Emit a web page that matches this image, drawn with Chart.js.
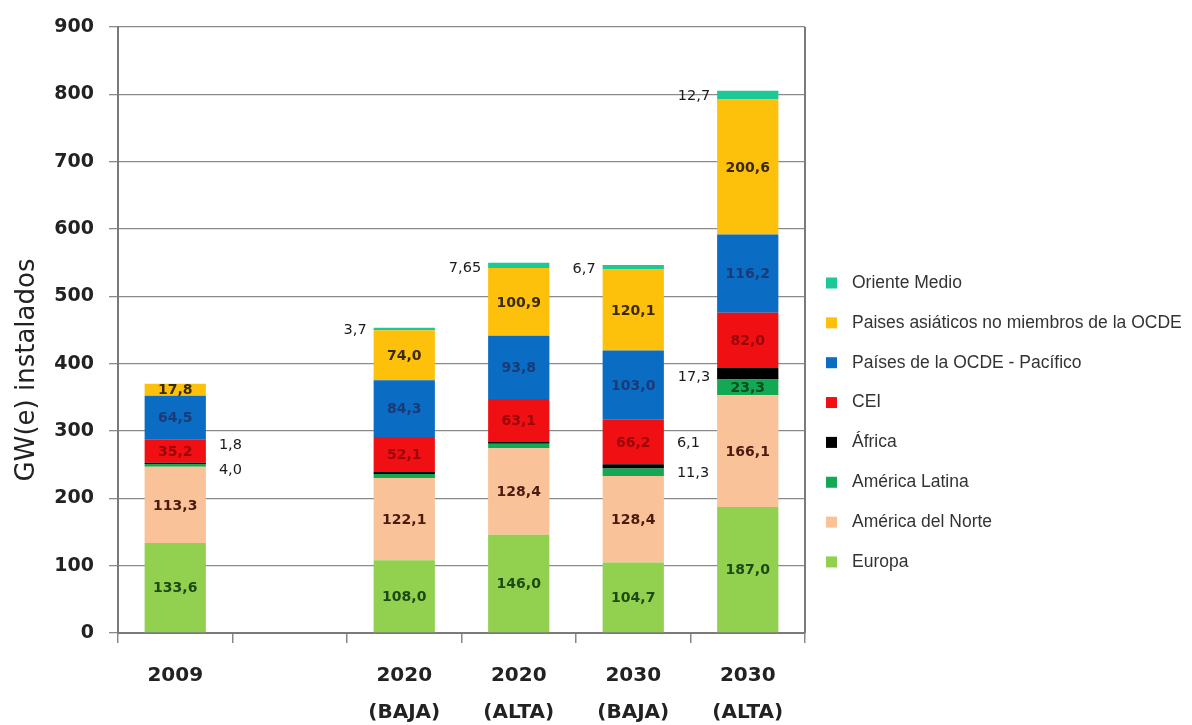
<!DOCTYPE html>
<html>
<head>
<meta charset="utf-8">
<title>GW(e) instalados por región</title>
<style>
  body { margin: 0; background: #fff; }
  #chart-container { width: 1192px; height: 725px; }
</style>
</head>
<body>
<div id="chart-container">
  <canvas id="mycanvas" width="1192" height="725"></canvas>
</div>

<script src="https://cdn.jsdelivr.net/npm/chart.js@4.4.1/dist/chart.umd.min.js"></script>
<script>
// categorías (la segunda queda vacía como separador)
var categorias = ['2009', '', ['2020', '(BAJA)'], ['2020', '(ALTA)'], ['2030', '(BAJA)'], ['2030', '(ALTA)']];

// GW(e) instalados por región, de abajo arriba en la pila
var europa        = [133.6, null, 108.0, 146.0, 104.7, 187.0];
var americaNorte  = [113.3, null, 122.1, 128.4, 128.4, 166.1];
var americaLatina = [4.0,   null, 6.0,   6.5,   11.3,  23.3];
var africa        = [1.8,   null, 3.0,   3.5,   6.1,   17.3];
var cei           = [35.2,  null, 52.1,  63.1,  66.2,  82.0];
var ocdePacifico  = [64.5,  null, 84.3,  93.8,  103.0, 116.2];
var asiaNoOcde    = [17.8,  null, 74.0,  100.9, 120.1, 200.6];
var orienteMedio  = [null,  null, 3.7,   7.65,  6.7,   12.7];

var ticksY = [0, 100, 200, 300, 400, 500, 600, 700, 800, 900];

function fmt(v) {
    var d = Math.abs(v * 10 - Math.round(v * 10)) < 1e-6 ? 1 : 2;
    return v.toFixed(d).replace('.', ',');
}

// etiquetas fuera de la barra: serie, categoría, lado y desplazamiento
var etiquetasFuera = [
    { serie: 'África', cat: 0, lado: 'der', dy: -18 },
    { serie: 'América Latina', cat: 0, lado: 'der', dy: 5 },
    { serie: 'África', cat: 4, lado: 'der', dy: -23 },
    { serie: 'América Latina', cat: 4, lado: 'der', dy: 1 },
    { serie: 'África', cat: 5, lado: 'izq', dy: 4 },
    { serie: 'Oriente Medio', cat: 2, lado: 'izq', dy: 1 },
    { serie: 'Oriente Medio', cat: 3, lado: 'izq', dy: 3 },
    { serie: 'Oriente Medio', cat: 4, lado: 'izq', dy: 2 },
    { serie: 'Oriente Medio', cat: 5, lado: 'izq', dy: 1 }
];

var etiquetasPlugin = {
    id: 'etiquetas',
    afterDatasetsDraw: function(chart) {
        var ctx = chart.ctx;
        ctx.save();
        ctx.textBaseline = 'middle';
        chart.data.datasets.forEach(function(ds, di) {
            var meta = chart.getDatasetMeta(di);
            meta.data.forEach(function(bar, ci) {
                var v = ds.data[ci];
                if (v == null) return;
                var p = bar.getProps(['x', 'y', 'base', 'width'], true);
                var yc = (p.y + p.base) / 2;
                var dentro = ds.dentro === true || (Array.isArray(ds.dentro) && ds.dentro.indexOf(ci) >= 0);
                if (dentro) {
                    ctx.font = 'bold 14px "DejaVu Sans"';
                    ctx.fillStyle = ds.colorTexto;
                    ctx.textAlign = 'center';
                    ctx.fillText(fmt(v), p.x, yc + 1);
                }
                etiquetasFuera.forEach(function(e) {
                    if (e.serie !== ds.label || e.cat !== ci) return;
                    ctx.font = '14.5px "DejaVu Sans"';
                    ctx.fillStyle = '#1a1a1a';
                    if (e.lado === 'der') {
                        ctx.textAlign = 'left';
                        ctx.fillText(fmt(v), p.x + p.width / 2 + 13, yc + e.dy);
                    } else {
                        ctx.textAlign = 'right';
                        ctx.fillText(fmt(v), p.x - p.width / 2 - 7, yc + e.dy);
                    }
                });
            });
        });
        ctx.restore();
    },
    afterDraw: function(chart) {
        var ctx = chart.ctx;
        var area = chart.chartArea;
        ctx.save();
        // borde derecho del área
        ctx.strokeStyle = '#7a7a7a';
        ctx.lineWidth = 2;
        ctx.beginPath();
        ctx.moveTo(area.right, area.top);
        ctx.lineTo(area.right, area.bottom);
        ctx.stroke();

        // título del eje Y
        ctx.translate(27, 370);
        ctx.rotate(-Math.PI / 2);
        ctx.font = '26px "DejaVu Sans"';
        ctx.fillStyle = '#222';
        ctx.textAlign = 'center';
        ctx.textBaseline = 'middle';
        ctx.fillText('GW(e) instalados', 0, 0);
        ctx.restore();

        // leyenda, de arriba (última serie) a abajo
        ctx.save();
        var ds = chart.data.datasets.slice().reverse();
        ctx.font = '17.5px "Liberation Sans"';
        ctx.textBaseline = 'middle';
        ctx.textAlign = 'left';
        ds.forEach(function(d, i) {
            var y = 283 + i * 39.85;
            ctx.fillStyle = d.backgroundColor;
            ctx.fillRect(826, y - 5.5, 11, 11);
            ctx.fillStyle = '#333';
            ctx.fillText(d.label, 852, y);
        });
        ctx.restore();
    }
};

var chartdata = {
    labels: categorias,
    datasets: [
        { label: 'Europa', data: europa, backgroundColor: '#92D050', colorTexto: '#1d4a12', dentro: true },
        { label: 'América del Norte', data: americaNorte, backgroundColor: '#F9C298', colorTexto: '#4a1a0e', dentro: true },
        { label: 'América Latina', data: americaLatina, backgroundColor: '#13A853', colorTexto: '#0b4a23', dentro: [5] },
        { label: 'África', data: africa, backgroundColor: '#000000', colorTexto: '#fff', dentro: false },
        { label: 'CEI', data: cei, backgroundColor: '#F00F12', colorTexto: '#9a0608', dentro: true },
        { label: 'Países de la OCDE - Pacífico', data: ocdePacifico, backgroundColor: '#0A6CC2', colorTexto: '#1b3a76', dentro: true },
        { label: 'Paises asiáticos no miembros de la OCDE', data: asiaNoOcde, backgroundColor: '#FDC10B', colorTexto: '#3a2a00', dentro: true },
        { label: 'Oriente Medio', data: orienteMedio, backgroundColor: '#1DC897', colorTexto: '#0b4a23', dentro: false }
    ]
};

var ctx = document.getElementById('mycanvas');

var barGraph = new Chart(ctx, {
    type: 'bar',
    data: chartdata,
    plugins: [etiquetasPlugin],
    options: {
        responsive: false,
        animation: false,
        devicePixelRatio: 1,
        layout: { padding: { top: 27, right: 387, left: 0, bottom: 0 } },
        plugins: {
            legend: { display: false },
            tooltip: { enabled: false }
        },
        datasets: {
            bar: { categoryPercentage: 1.0, barPercentage: 0.535 }
        },
        scales: {
            x: {
                stacked: true,
                afterFit: function(scale) { scale.height = 92; },
                grid: {
                    display: true,
                    drawOnChartArea: false,
                    drawTicks: true,
                    tickLength: 10,
                    offset: true,
                    color: '#888',
                    lineWidth: 1.5
                },
                border: { display: true, color: '#7a7a7a', width: 2 },
                ticks: {
                    color: '#222',
                    padding: 14,
                    maxRotation: 0,
                    autoSkip: false,
                    font: { family: 'DejaVu Sans', weight: 'bold', size: 20, lineHeight: 1.85 }
                }
            },
            y: {
                stacked: true,
                min: 0,
                max: 900,
                afterFit: function(scale) { scale.width = 118; },
                afterBuildTicks: function(scale) {
                    scale.ticks = ticksY.map(function(v) { return { value: v }; });
                },
                grid: {
                    color: '#8a8a8a',
                    lineWidth: 1.3,
                    drawTicks: true,
                    tickLength: 9
                },
                border: { display: true, color: '#7a7a7a', width: 2 },
                ticks: {
                    color: '#222',
                    padding: 15,
                    font: { family: 'DejaVu Sans', weight: 'bold', size: 19 }
                }
            }
        }
    }
});
</script>
</body>
</html>
